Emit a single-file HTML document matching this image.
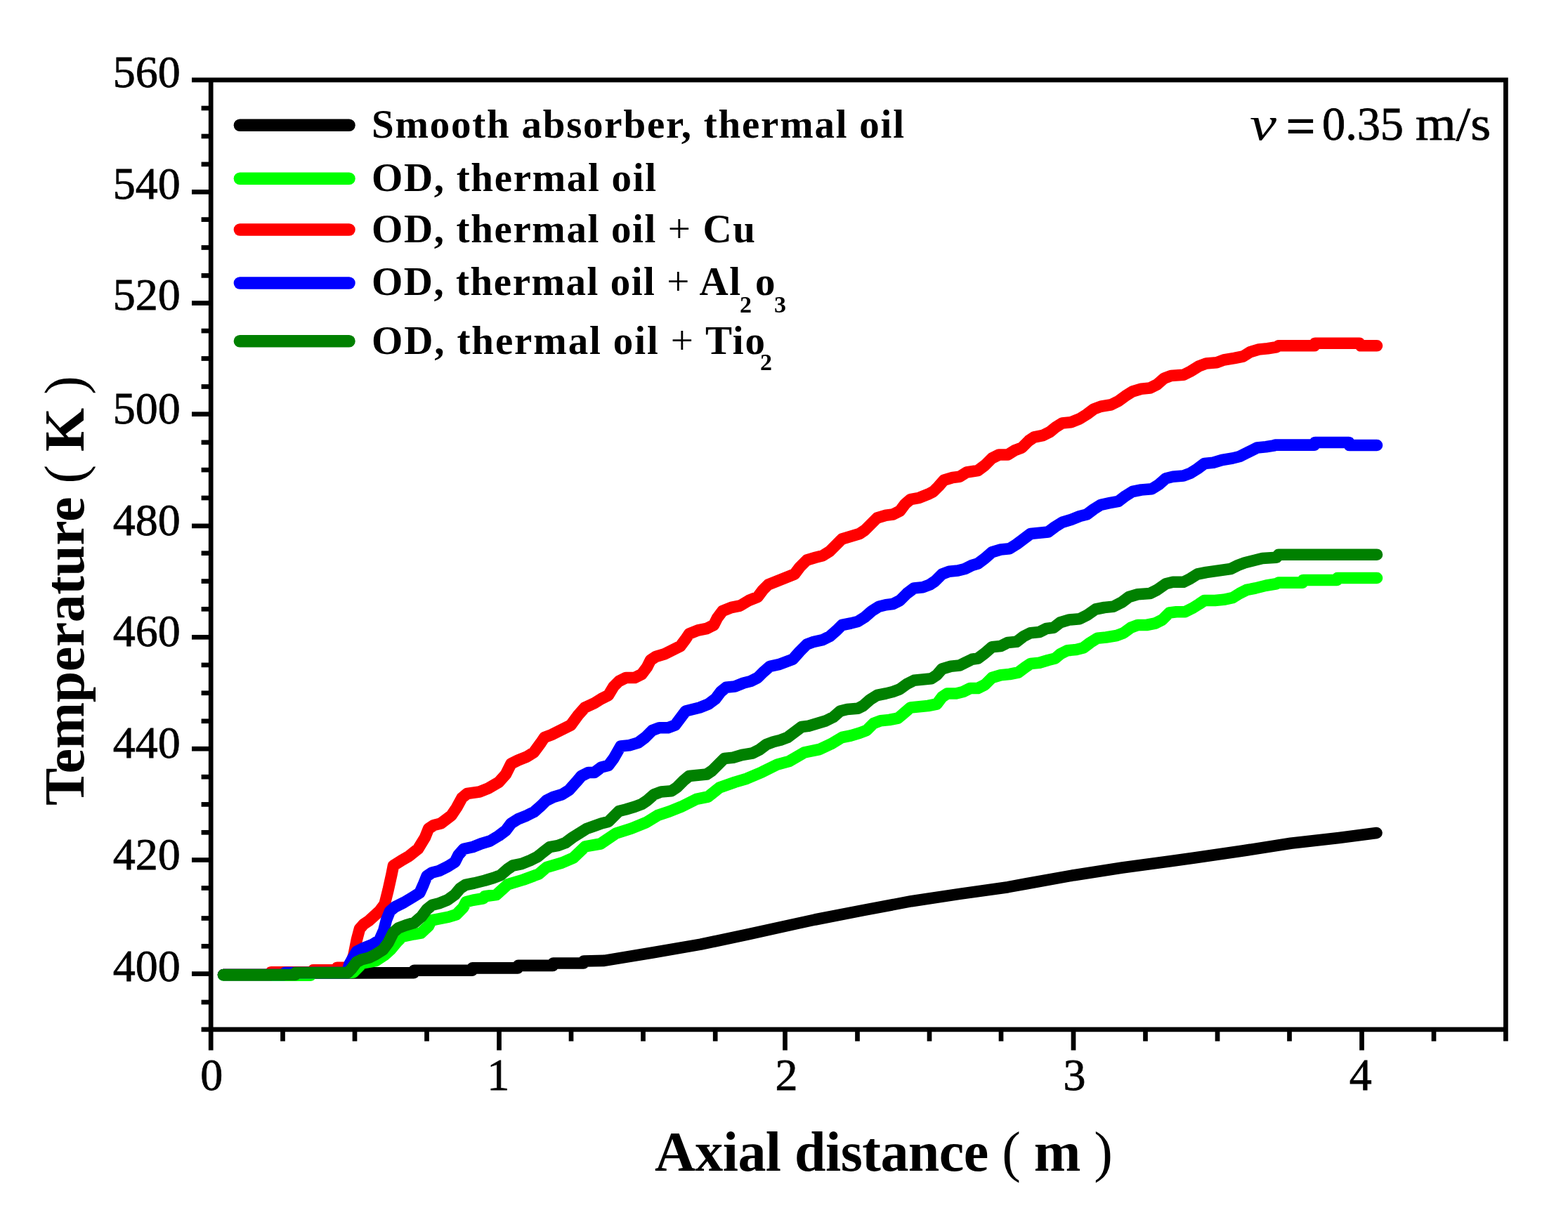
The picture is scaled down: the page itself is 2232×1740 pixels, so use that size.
<!DOCTYPE html>
<html><head><meta charset="utf-8"><title>Temperature vs axial distance</title><style>html,body{margin:0;padding:0;background:#fff;}svg{display:block;}</style></head><body>
<svg width="2232" height="1740" viewBox="0 0 2232 1740">
<rect width="2232" height="1740" fill="#fff"/>
<path d="M318.0,1388.0 L420.0,1388.0 L421.0,1385.5 L589.0,1385.2 L589.5,1381.8 L672.0,1381.8 L672.5,1378.4 L737.0,1378.4 L737.5,1374.9 L787.0,1374.9 L787.5,1371.5 L830.6,1371.5 L831.0,1368.5 L860.0,1367.9 L928.7,1356.5 L997.4,1344.6 L1066.0,1330.1 L1134.7,1315.0 L1160.0,1309.5 L1228.7,1296.2 L1297.4,1283.2 L1366.0,1272.9 L1434.7,1263.2 L1460.0,1258.5 L1528.7,1246.2 L1597.4,1235.5 L1666.0,1226.3 L1700.0,1221.5 L1768.7,1211.5 L1837.4,1200.8 L1906.0,1193.0 L1959.5,1186.0" fill="none" stroke="#000000" stroke-width="16.6" stroke-linejoin="round" stroke-linecap="round"/>
<path d="M318.0,1388.6 L442.0,1388.6 L443.0,1385.0 L498.0,1385.0 L503.0,1384.5 L515.8,1371.5 L535.0,1368.0 L547.5,1359.8 L556.4,1351.8 L564.7,1341.7 L572.9,1333.5 L589.3,1330.2 L599.2,1328.6 L609.9,1318.7 L614.0,1310.5 L622.2,1308.8 L638.7,1305.6 L649.4,1302.3 L659.2,1292.4 L663.4,1284.2 L673.2,1281.7 L688.0,1279.2 L690.0,1276.3 L706.5,1274.1 L723.0,1259.2 L745.0,1252.6 L767.0,1244.4 L778.0,1235.0 L800.0,1228.5 L816.4,1221.3 L832.9,1205.4 L854.8,1201.5 L876.8,1186.7 L898.8,1179.6 L920.0,1171.0 L936.5,1160.9 L953.0,1155.4 L969.5,1148.8 L991.4,1137.8 L1007.9,1134.5 L1024.4,1121.3 L1046.4,1113.6 L1062.9,1108.7 L1084.8,1099.3 L1106.8,1088.4 L1123.3,1084.0 L1145.3,1071.3 L1166.5,1067.0 L1183.0,1059.3 L1198.5,1050.0 L1211.0,1047.5 L1223.5,1043.8 L1233.5,1040.0 L1243.5,1030.0 L1253.5,1026.2 L1266.0,1025.0 L1278.5,1022.5 L1286.0,1016.2 L1296.0,1007.5 L1308.5,1006.2 L1321.0,1005.0 L1333.5,1002.5 L1341.0,992.5 L1348.5,987.5 L1361.0,987.5 L1371.0,985.0 L1381.0,980.0 L1392.0,980.0 L1402.0,975.0 L1412.0,965.0 L1424.5,961.2 L1437.0,960.0 L1449.5,957.5 L1459.5,950.0 L1467.0,945.0 L1479.5,943.8 L1492.0,940.0 L1502.0,937.5 L1509.5,931.2 L1519.5,926.2 L1532.0,925.0 L1542.0,922.5 L1552.0,915.0 L1562.0,908.8 L1574.5,907.5 L1589.5,905.0 L1599.5,901.2 L1609.5,893.8 L1619.5,890.0 L1632.0,890.0 L1644.5,887.5 L1654.5,882.5 L1664.5,872.5 L1674.5,871.2 L1687.0,871.2 L1697.0,866.2 L1707.0,860.0 L1714.5,855.0 L1729.5,855.0 L1742.0,853.8 L1754.5,851.2 L1764.5,845.0 L1774.5,840.0 L1787.0,837.5 L1802.0,833.8 L1817.0,831.2 L1820.0,829.6 L1854.0,829.6 L1855.0,826.0 L1903.0,826.0 L1904.0,823.0 L1960.0,823.0" fill="none" stroke="#00ff00" stroke-width="16.6" stroke-linejoin="round" stroke-linecap="round"/>
<path d="M318.0,1388.0 L385.0,1388.0 L386.0,1384.3 L405.0,1384.3 L445.0,1384.3 L446.0,1381.3 L479.0,1381.3 L480.0,1377.7 L497.5,1377.7 L503.5,1360.0 L508.0,1337.5 L512.0,1322.5 L517.5,1316.2 L525.0,1311.2 L540.0,1297.5 L547.5,1287.5 L552.5,1267.5 L557.5,1245.0 L560.0,1232.5 L570.0,1226.2 L582.5,1218.8 L595.0,1208.8 L605.0,1192.5 L610.0,1180.0 L617.5,1175.0 L627.5,1172.5 L642.5,1161.2 L650.0,1150.0 L657.5,1136.2 L665.0,1130.0 L682.5,1127.5 L695.0,1122.5 L710.0,1113.8 L720.0,1102.5 L727.5,1087.5 L737.5,1082.5 L750.0,1077.5 L760.0,1071.2 L770.0,1057.5 L775.0,1050.0 L785.0,1046.2 L800.0,1038.8 L812.5,1032.5 L822.5,1018.8 L832.5,1007.5 L846.0,1001.2 L856.0,995.0 L866.0,990.0 L873.5,977.5 L881.0,970.0 L891.0,965.0 L903.5,965.0 L913.5,960.0 L921.0,950.0 L926.0,940.0 L933.5,935.0 L946.0,931.2 L958.5,925.0 L968.5,920.0 L976.0,910.0 L981.0,902.5 L993.5,897.5 L1006.0,895.0 L1016.0,890.0 L1021.0,880.0 L1028.5,870.0 L1041.0,865.0 L1053.5,862.5 L1066.0,855.0 L1078.5,850.0 L1086.0,840.0 L1093.5,832.5 L1106.0,827.5 L1118.5,822.5 L1131.0,817.5 L1138.5,807.5 L1148.5,797.5 L1161.0,793.8 L1171.0,791.2 L1181.0,785.0 L1191.0,775.0 L1198.5,767.5 L1211.0,763.8 L1223.5,760.0 L1231.0,755.0 L1238.5,747.5 L1248.5,737.5 L1261.0,733.8 L1271.0,732.5 L1281.0,727.5 L1288.5,717.5 L1296.0,711.2 L1308.5,708.8 L1321.0,703.8 L1328.5,700.0 L1336.0,692.5 L1343.5,683.8 L1356.0,680.0 L1366.0,678.8 L1376.0,672.5 L1392.0,670.0 L1402.0,662.5 L1412.0,652.5 L1422.0,647.5 L1434.5,647.5 L1444.5,641.2 L1454.5,637.5 L1464.5,627.5 L1472.0,622.5 L1484.5,620.0 L1494.5,615.0 L1502.0,608.8 L1512.0,602.5 L1524.5,601.2 L1537.0,596.2 L1547.0,590.0 L1557.0,582.5 L1567.0,578.8 L1582.0,576.2 L1592.0,571.2 L1602.0,563.8 L1612.0,557.5 L1624.5,553.8 L1637.0,552.5 L1647.0,547.5 L1657.0,538.8 L1667.0,535.0 L1684.5,533.8 L1694.5,528.8 L1707.0,521.2 L1717.0,517.5 L1732.0,516.2 L1742.0,512.5 L1757.0,510.0 L1769.5,507.5 L1779.5,501.2 L1792.0,497.5 L1804.5,496.2 L1817.0,494.2 L1820.0,492.3 L1871.0,492.3 L1872.0,488.8 L1935.0,488.8 L1937.0,492.3 L1960.0,492.3" fill="none" stroke="#ff0000" stroke-width="16.6" stroke-linejoin="round" stroke-linecap="round"/>
<path d="M318.0,1388.0 L405.0,1388.0 L406.0,1385.0 L419.0,1385.0 L494.0,1385.0 L497.5,1372.5 L507.5,1355.0 L517.5,1350.0 L530.0,1345.0 L540.0,1338.8 L546.2,1325.0 L550.0,1310.0 L555.0,1297.5 L562.5,1291.2 L575.0,1285.0 L587.5,1277.5 L597.5,1271.2 L602.5,1260.0 L607.5,1247.5 L615.0,1242.5 L625.0,1240.0 L637.5,1233.8 L647.5,1227.5 L652.5,1217.5 L660.0,1208.8 L672.5,1206.2 L685.0,1201.2 L697.5,1197.5 L710.0,1190.0 L720.0,1182.5 L727.5,1172.5 L737.5,1166.2 L750.0,1161.2 L760.0,1156.2 L770.0,1147.5 L777.5,1140.0 L787.5,1135.0 L800.0,1131.2 L810.0,1125.0 L820.0,1113.8 L827.5,1105.0 L837.5,1100.0 L846.0,1100.0 L856.0,1092.5 L866.0,1090.0 L873.5,1080.0 L883.5,1062.5 L896.0,1061.2 L908.5,1057.5 L918.5,1050.0 L928.5,1040.0 L938.5,1036.2 L951.0,1036.2 L961.0,1032.5 L968.5,1022.5 L976.0,1012.5 L986.0,1010.0 L996.0,1007.5 L1008.5,1002.5 L1018.5,995.0 L1026.0,985.0 L1033.5,978.8 L1046.0,977.5 L1058.5,972.5 L1068.5,970.0 L1078.5,965.0 L1086.0,957.5 L1096.0,948.8 L1108.5,946.2 L1118.5,942.5 L1128.5,938.8 L1138.5,927.5 L1148.5,917.5 L1158.5,913.8 L1171.0,911.2 L1181.0,906.2 L1191.0,897.5 L1198.5,890.0 L1211.0,887.5 L1221.0,885.0 L1231.0,878.8 L1241.0,870.0 L1251.0,863.8 L1261.0,861.2 L1271.0,860.0 L1281.0,855.0 L1291.0,845.0 L1301.0,837.5 L1313.5,836.2 L1323.5,832.5 L1331.0,827.5 L1341.0,817.5 L1351.0,813.8 L1363.5,812.5 L1373.5,810.0 L1383.5,805.0 L1392.0,802.5 L1402.0,795.0 L1412.0,786.2 L1424.5,782.5 L1437.0,781.2 L1447.0,775.0 L1457.0,767.5 L1467.0,760.0 L1479.5,758.8 L1492.0,757.5 L1502.0,750.0 L1512.0,743.8 L1524.5,740.0 L1537.0,735.0 L1547.0,732.5 L1557.0,725.0 L1567.0,718.8 L1579.5,716.2 L1592.0,713.8 L1602.0,706.2 L1612.0,700.0 L1624.5,697.5 L1639.5,696.2 L1649.5,690.0 L1659.5,681.2 L1669.5,678.8 L1684.5,677.5 L1694.5,673.8 L1704.5,667.5 L1714.5,660.0 L1727.0,658.8 L1739.5,655.0 L1754.5,652.5 L1764.5,650.0 L1777.0,643.8 L1789.5,637.5 L1802.0,636.2 L1814.5,634.2 L1815.0,633.6 L1871.0,633.6 L1872.0,630.0 L1920.0,630.0 L1921.0,634.0 L1960.0,634.0" fill="none" stroke="#0000ff" stroke-width="16.6" stroke-linejoin="round" stroke-linecap="round"/>
<path d="M318.0,1388.0 L420.0,1388.0 L421.0,1385.0 L495.0,1385.0 L500.0,1380.0 L507.5,1370.0 L515.0,1366.2 L525.0,1363.8 L535.0,1358.8 L545.0,1352.5 L552.5,1342.5 L560.0,1327.5 L567.5,1321.2 L577.5,1317.5 L590.0,1313.8 L600.0,1305.0 L607.5,1295.0 L615.0,1288.8 L625.0,1286.2 L637.5,1281.2 L647.5,1273.8 L655.0,1265.0 L662.5,1260.0 L675.0,1257.5 L690.0,1253.8 L702.5,1250.0 L712.5,1246.2 L722.5,1237.5 L730.0,1232.5 L742.5,1230.0 L755.0,1225.0 L765.0,1220.0 L772.5,1213.8 L782.5,1206.2 L795.0,1203.8 L805.0,1200.0 L815.0,1192.5 L825.0,1186.2 L835.0,1180.0 L846.0,1176.2 L856.0,1172.5 L866.0,1170.0 L873.5,1162.5 L881.0,1155.0 L891.0,1152.5 L903.5,1148.8 L913.5,1145.0 L921.0,1140.0 L931.0,1131.2 L941.0,1127.5 L956.0,1126.2 L963.5,1121.2 L973.5,1111.2 L981.0,1105.0 L993.5,1103.8 L1006.0,1102.5 L1013.5,1097.5 L1023.5,1087.5 L1031.0,1080.0 L1043.5,1078.8 L1056.0,1075.0 L1071.0,1072.5 L1081.0,1067.5 L1091.0,1060.0 L1101.0,1056.2 L1111.0,1053.8 L1121.0,1050.0 L1131.0,1042.5 L1141.0,1035.0 L1151.0,1033.8 L1163.5,1030.0 L1176.0,1026.2 L1186.0,1021.2 L1196.0,1012.5 L1206.0,1010.0 L1221.0,1008.8 L1228.5,1005.0 L1238.5,996.2 L1248.5,990.0 L1261.0,987.5 L1271.0,985.0 L1281.0,981.2 L1291.0,973.8 L1301.0,968.8 L1313.5,967.5 L1326.0,966.2 L1333.5,961.2 L1341.0,952.5 L1353.5,948.8 L1366.0,947.5 L1373.5,943.8 L1383.5,938.8 L1392.0,937.5 L1402.0,930.0 L1412.0,921.2 L1424.5,920.0 L1434.5,915.0 L1447.0,913.8 L1457.0,906.2 L1467.0,901.2 L1479.5,900.0 L1489.5,895.0 L1499.5,893.8 L1509.5,886.2 L1522.0,882.5 L1537.0,881.2 L1547.0,876.2 L1559.5,867.5 L1572.0,865.0 L1584.5,863.8 L1597.0,857.5 L1607.0,850.0 L1619.5,846.2 L1637.0,845.0 L1647.0,840.0 L1659.5,831.2 L1669.5,828.8 L1684.5,828.8 L1694.5,823.8 L1704.5,817.5 L1717.0,815.0 L1734.5,812.5 L1752.0,810.0 L1762.0,805.0 L1772.0,801.2 L1787.0,797.5 L1797.0,795.0 L1817.0,793.8 L1820.0,789.7 L1960.0,789.7" fill="none" stroke="#008000" stroke-width="16.6" stroke-linejoin="round" stroke-linecap="round"/>
<g stroke="#000" stroke-width="6.7" fill="none" stroke-linecap="butt">
<path d="M300.2,110.55000000000001 V1495.5 M273,113.9 H2146.75 M2143.4,113.9 V1482.6 M286.6,1465.9 H2146.75"/>
<path d="M286.6,154.00 H300.2"/>
<path d="M286.6,194.00 H300.2"/>
<path d="M286.6,233.90 H300.2"/>
<path d="M273,273.30 H300.2"/>
<path d="M286.6,312.60 H300.2"/>
<path d="M286.6,352.50 H300.2"/>
<path d="M286.6,392.40 H300.2"/>
<path d="M273,431.60 H300.2"/>
<path d="M286.6,471.10 H300.2"/>
<path d="M286.6,510.50 H300.2"/>
<path d="M286.6,550.50 H300.2"/>
<path d="M273,589.70 H300.2"/>
<path d="M286.6,629.90 H300.2"/>
<path d="M286.6,669.10 H300.2"/>
<path d="M286.6,709.00 H300.2"/>
<path d="M273,748.90 H300.2"/>
<path d="M286.6,787.70 H300.2"/>
<path d="M286.6,827.60 H300.2"/>
<path d="M286.6,867.30 H300.2"/>
<path d="M273,907.30 H300.2"/>
<path d="M286.6,946.90 H300.2"/>
<path d="M286.6,986.80 H300.2"/>
<path d="M286.6,1026.80 H300.2"/>
<path d="M273,1066.20 H300.2"/>
<path d="M286.6,1106.20 H300.2"/>
<path d="M286.6,1145.40 H300.2"/>
<path d="M286.6,1185.30 H300.2"/>
<path d="M273,1224.50 H300.2"/>
<path d="M286.6,1264.50 H300.2"/>
<path d="M286.6,1307.50 H300.2"/>
<path d="M286.6,1347.30 H300.2"/>
<path d="M273,1386.60 H300.2"/>
<path d="M286.6,1427.00 H300.2"/>
<path d="M402.50,1465.9 V1482.6"/>
<path d="M505.00,1465.9 V1482.6"/>
<path d="M607.50,1465.9 V1482.6"/>
<path d="M710.50,1465.9 V1495.5"/>
<path d="M813.00,1465.9 V1482.6"/>
<path d="M915.50,1465.9 V1482.6"/>
<path d="M1018.20,1465.9 V1482.6"/>
<path d="M1117.50,1465.9 V1495.5"/>
<path d="M1220.50,1465.9 V1482.6"/>
<path d="M1323.00,1465.9 V1482.6"/>
<path d="M1425.00,1465.9 V1482.6"/>
<path d="M1528.00,1465.9 V1495.5"/>
<path d="M1630.50,1465.9 V1482.6"/>
<path d="M1733.00,1465.9 V1482.6"/>
<path d="M1835.50,1465.9 V1482.6"/>
<path d="M1938.50,1465.9 V1495.5"/>
<path d="M2041.00,1465.9 V1482.6"/>
</g>
<g font-family="Liberation Serif, serif" font-size="64" fill="#000" stroke="#000" stroke-width="0.8">
<text x="256.8" y="124.2" text-anchor="end">560</text>
<text x="256.8" y="282.9" text-anchor="end">540</text>
<text x="256.8" y="440.8" text-anchor="end">520</text>
<text x="256.8" y="603.2" text-anchor="end">500</text>
<text x="256.8" y="761.6" text-anchor="end">480</text>
<text x="256.8" y="920.3" text-anchor="end">460</text>
<text x="256.8" y="1078.9" text-anchor="end">440</text>
<text x="256.8" y="1237.6" text-anchor="end">420</text>
<text x="256.8" y="1396.8" text-anchor="end">400</text>
<text x="301.2" y="1552" text-anchor="middle">0</text>
<text x="709.3" y="1552" text-anchor="middle">1</text>
<text x="1119.4" y="1552" text-anchor="middle">2</text>
<text x="1529.4" y="1552" text-anchor="middle">3</text>
<text x="1936.8" y="1552" text-anchor="middle">4</text>
</g>
<text x="932" y="1667" font-family="Liberation Serif, serif" font-weight="bold" font-size="80" textLength="652" lengthAdjust="spacing">Axial distance <tspan font-weight="normal">(</tspan> m <tspan font-weight="normal">)</tspan></text>
<text transform="translate(119,1147) rotate(-90)" font-family="Liberation Serif, serif" font-weight="bold" font-size="80" textLength="612" lengthAdjust="spacing">Temperature <tspan font-weight="normal">(</tspan> K <tspan font-weight="normal">)</tspan></text>
<path d="M341.4,178.2 H497" stroke="#000000" stroke-width="17.5" stroke-linecap="round"/>
<text x="529" y="196.2" font-family="Liberation Serif, serif" font-weight="bold" font-size="57" textLength="758" lengthAdjust="spacing">Smooth absorber, thermal oil</text>
<path d="M341.4,254.2 H497" stroke="#00ff00" stroke-width="17.5" stroke-linecap="round"/>
<text x="529" y="272.1" font-family="Liberation Serif, serif" font-weight="bold" font-size="57" textLength="405" lengthAdjust="spacing">OD, thermal oil</text>
<path d="M341.4,327.0 H497" stroke="#ff0000" stroke-width="17.5" stroke-linecap="round"/>
<text x="529" y="345.2" font-family="Liberation Serif, serif" font-weight="bold" font-size="57" textLength="546" lengthAdjust="spacing">OD, thermal oil <tspan font-weight="normal">+</tspan> Cu</text>
<path d="M341.4,403.0 H497" stroke="#0000ff" stroke-width="17.5" stroke-linecap="round"/>
<text x="529" y="420.3" font-family="Liberation Serif, serif" font-weight="bold" font-size="57" textLength="525" lengthAdjust="spacing">OD, thermal oil <tspan font-weight="normal">+</tspan> Al</text>
<path d="M341.4,485.7 H497" stroke="#008000" stroke-width="17.5" stroke-linecap="round"/>
<text x="529" y="503.6" font-family="Liberation Serif, serif" font-weight="bold" font-size="57" textLength="560" lengthAdjust="spacing">OD, thermal oil <tspan font-weight="normal">+</tspan> Tio</text>
<text x="1053" y="444.6" font-family="Liberation Serif, serif" font-weight="bold" font-size="34">2</text>
<text x="1075" y="420.3" font-family="Liberation Serif, serif" font-weight="bold" font-size="57">o</text>
<text x="1102" y="444.6" font-family="Liberation Serif, serif" font-weight="bold" font-size="34">3</text>
<text x="1082" y="526.7" font-family="Liberation Serif, serif" font-weight="bold" font-size="34">2</text>
<text x="1779" y="199.2" font-family="Liberation Serif, serif" font-style="italic" font-size="67" textLength="38" lengthAdjust="spacingAndGlyphs">v</text>
<text x="1830" y="205" font-family="Liberation Serif, serif" font-weight="bold" font-size="76">=</text>
<text x="1882" y="199.2" font-family="Liberation Serif, serif" font-size="67" textLength="116" lengthAdjust="spacingAndGlyphs" stroke="#000" stroke-width="0.8">0.35</text>
<text x="2015" y="199.2" font-family="Liberation Serif, serif" font-size="67" textLength="107" lengthAdjust="spacingAndGlyphs" stroke="#000" stroke-width="0.8">m/s</text>
</svg>
</body></html>
